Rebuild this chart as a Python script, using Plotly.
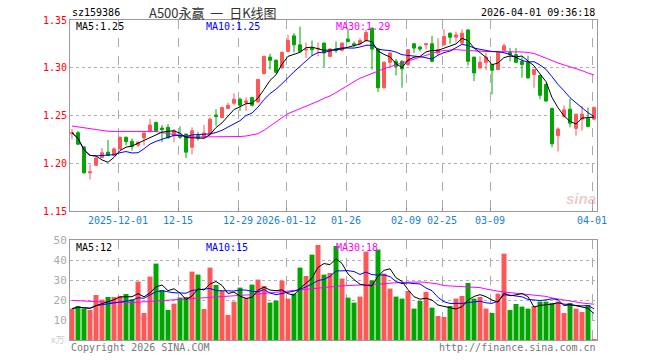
import pandas as pd
import plotly.graph_objects as go

# ---------------- data ----------------
holidays = ["2026-01-01", "2026-01-02", "2026-02-16", "2026-02-17", "2026-02-18",
            "2026-02-19", "2026-02-20", "2026-02-23"]
dates = [d.strftime("%Y-%m-%d") for d in pd.bdate_range("2025-11-19", "2026-04-01")
         if d.strftime("%Y-%m-%d") not in holidays]

open_ = [1.231, 1.232, 1.217, 1.190, 1.198, 1.206, 1.2116, 1.208, 1.215, 1.2272,
         1.223, 1.219, 1.2265, 1.2337, 1.2427, 1.2369, 1.2376, 1.2289, 1.2289, 1.2306,
         1.2168, 1.2289, 1.2272, 1.2306, 1.2504, 1.2479, 1.2573, 1.2628, 1.267, 1.2635,
         1.2687, 1.2642, 1.294, 1.3112, 1.3078, 1.2998, 1.3171, 1.3334, 1.324, 1.3185,
         1.3206, 1.3196, 1.3258, 1.3119, 1.3196, 1.3182, 1.3299, 1.3251, 1.3251, 1.3285,
         1.3413, 1.3196, 1.2791, 1.3057, 1.3067, 1.3067, 1.3033, 1.3251, 1.3216, 1.324,
         1.3251, 1.3154, 1.324, 1.3362, 1.332, 1.3258, 1.3396, 1.3112, 1.2998, 1.3057,
         1.3033, 1.2981, 1.3182, 1.3161, 1.3137, 1.3067, 1.3057, 1.2929, 1.2919, 1.2825,
         1.2573, 1.2289, 1.249, 1.2566, 1.2365, 1.2462, 1.2469, 1.2462]
high = [1.236, 1.234, 1.218, 1.1985, 1.2075, 1.216, 1.2244, 1.2168, 1.228, 1.228,
        1.226, 1.223, 1.2324, 1.2462, 1.2435, 1.240, 1.241, 1.2358, 1.2386, 1.2306,
        1.2376, 1.233, 1.240, 1.248, 1.2566, 1.2594, 1.2635, 1.2732, 1.2687, 1.2687,
        1.2697, 1.2884, 1.3126, 1.3147, 1.3092, 1.3171, 1.3344, 1.3362, 1.3431, 1.3265,
        1.3285, 1.3265, 1.3265, 1.3206, 1.3275, 1.3265, 1.3396, 1.3275, 1.331, 1.3396,
        1.3424, 1.3206, 1.3067, 1.3171, 1.3092, 1.3078, 1.3196, 1.3258, 1.323, 1.3251,
        1.3334, 1.331, 1.3403, 1.3369, 1.3379, 1.3403, 1.3403, 1.3112, 1.3119, 1.3161,
        1.3043, 1.3171, 1.3251, 1.3206, 1.3206, 1.3119, 1.3126, 1.2988, 1.2929, 1.2836,
        1.2583, 1.2376, 1.2607, 1.2677, 1.2514, 1.260, 1.2583, 1.2594]
low = [1.225, 1.219, 1.189, 1.183, 1.197, 1.2055, 1.2075, 1.2075, 1.2144, 1.2185,
       1.2133, 1.217, 1.2185, 1.2324, 1.2324, 1.222, 1.2262, 1.222, 1.2254, 1.2054,
       1.2092, 1.2237, 1.2262, 1.2289, 1.2393, 1.2479, 1.2566, 1.2607, 1.2549, 1.2549,
       1.2594, 1.2635, 1.2929, 1.2981, 1.294, 1.2991, 1.3161, 1.3161, 1.3161, 1.3102,
       1.3126, 1.3119, 1.3009, 1.3112, 1.3154, 1.3171, 1.3265, 1.3216, 1.324, 1.3275,
       1.2981, 1.2746, 1.278, 1.3016, 1.2919, 1.2791, 1.3016, 1.3154, 1.3171, 1.3189,
       1.3057, 1.3137, 1.323, 1.3251, 1.3265, 1.3251, 1.3023, 1.286, 1.2988, 1.2974,
       1.2722, 1.2974, 1.3171, 1.3067, 1.305, 1.2895, 1.2884, 1.2791, 1.267, 1.2642,
       1.2168, 1.2123, 1.2479, 1.2376, 1.2289, 1.2341, 1.2376, 1.2455]
close = [1.232, 1.220, 1.190, 1.191, 1.2054, 1.211, 1.208, 1.215, 1.2272, 1.2227,
         1.2175, 1.222, 1.2317, 1.240, 1.2341, 1.2351, 1.2265, 1.2341, 1.2272, 1.2116,
         1.2341, 1.2262, 1.2317, 1.2462, 1.249, 1.2583, 1.2607, 1.267, 1.2607, 1.2652,
         1.2607, 1.2877, 1.3119, 1.3078, 1.2953, 1.3161, 1.3285, 1.324, 1.3171, 1.3192,
         1.3189, 1.3203, 1.3154, 1.3196, 1.3182, 1.3258, 1.3275, 1.324, 1.3285, 1.3369,
         1.3196, 1.2791, 1.3057, 1.3154, 1.3016, 1.2988, 1.3189, 1.3206, 1.3196, 1.3251,
         1.3067, 1.3189, 1.3327, 1.332, 1.3344, 1.3362, 1.3067, 1.2946, 1.3057, 1.3112,
         1.2974, 1.3161, 1.323, 1.3137, 1.3057, 1.3033, 1.2895, 1.2981, 1.2711, 1.2652,
         1.2203, 1.2358, 1.2559, 1.242, 1.2514, 1.2514, 1.2386, 1.2583]
volume = [15.7, 17.0, 15.7, 15.0, 22.5, 20.2, 21.5, 21.5, 22.0, 23.0,
          20.3, 29.2, 13.5, 31.7, 38.2, 25.0, 15.0, 18.2, 21.2, 21.5,
          34.2, 32.7, 15.5, 36.2, 27.5, 24.5, 12.5, 19.2, 26.2, 21.2,
          27.7, 30.2, 27.0, 18.7, 19.7, 29.7, 20.7, 23.2, 36.2, 32.0,
          42.7, 47.5, 32.7, 33.5, 47.0, 30.7, 21.2, 18.7, 21.7, 44.2,
          29.8, 45.2, 33.2, 25.7, 21.7, 20.7, 24.5, 15.7, 19.5, 24.0,
          16.2, 12.0, 11.5, 17.0, 20.7, 22.0, 28.5, 20.7, 21.5, 15.7,
          13.5, 23.2, 43.2, 15.0, 18.0, 16.7, 15.7, 17.0, 19.2, 19.2,
          18.5, 19.2, 13.5, 18.5, 15.7, 14.0, 17.5, 0.5]
ma30_price = [1.239, 1.238, 1.237, 1.236, 1.235, 1.234, 1.2335,
              1.2333, 1.2333, 1.2333, 1.2333, 1.2333, 1.2333, 1.2333, 1.2333,
              1.232, 1.231, 1.230, 1.229, 1.2285,
              1.2275, 1.2275, 1.2275, 1.2275, 1.2275, 1.2275, 1.2275, 1.2275,
              1.228, 1.2285, 1.2295, 1.231,
              1.2345, 1.239, 1.243, 1.248, 1.252,
              1.2545, 1.257, 1.260, 1.2625, 1.265,
              1.268, 1.2705, 1.274, 1.278, 1.282,
              1.2855, 1.289, 1.2915, 1.294, 1.297,
              1.299, 1.301, 1.303, 1.305, 1.307,
              1.309, 1.311, 1.3135, 1.3155, 1.317,
              1.318, 1.3185, 1.319, 1.3185, 1.318,
              1.3175, 1.3175, 1.317, 1.317, 1.317,
              1.317, 1.317, 1.317, 1.3165, 1.316,
              1.315, 1.3125, 1.310, 1.307, 1.305,
              1.303, 1.301, 1.2995, 1.297, 1.2945,
              1.2925]
ma30_vol = [19.8, 19.6, 19.4, 19.2,
            19.0, 19.0, 18.9, 18.8, 18.7, 18.7, 18.7,
            18.9, 19.1, 19.2, 19.3, 19.4,
            19.6, 19.8, 20.0, 20.3,
            20.5, 20.7, 20.9, 21.1, 21.3,
            21.5, 21.7, 21.9, 22.2, 22.4,
            22.7, 23.0, 23.3, 23.6, 23.9,
            24.3, 24.7, 25.0, 25.3, 25.6,
            25.9, 26.2, 26.5, 26.7, 27.0,
            27.1, 27.2, 27.3, 27.4, 27.6,
            27.7, 27.8, 28.1, 28.4, 28.7,
            28.8, 28.9, 29.0, 29.0, 28.8,
            28.4, 28.0, 27.2, 27.0, 26.9,
            26.7, 26.5, 26.3, 26.2, 25.5,
            24.8, 24.4, 24.0, 23.7, 23.4,
            23.0, 22.8, 22.5, 22.3, 21.8,
            21.0, 20.5, 20.0, 19.5, 18.8,
            18.5, 18.2, 17.9]

tick_dates = ["2025-12-01", "2025-12-15", "2025-12-29", "2026-01-12", "2026-01-26",
              "2026-02-09", "2026-02-25", "2026-03-09", "2026-04-01"]
tick_text = ["2025-12-01", "12-15", "12-29", "2026-01-12", "01-26",
             "02-09", "02-25", "03-09", "04-01"]
price_ticks = [1.15, 1.20, 1.25, 1.30, 1.35]
vol_ticks = [10, 20, 30, 40, 50]

code = "sz159386"
title = "A500永赢\u00a0\u00a0一\u00a0\u00a0日K线图"
timestamp = "2026-04-01 09:36:18"
price_labels = ["MA5:1.25", "MA10:1.25", "MA30:1.29"]
vol_labels = ["MA5:12", "MA10:15", "MA30:18"]

# ---------------- derived ----------------
x = list(range(len(dates)))
cs = pd.Series(close)
vs = pd.Series(volume)
ma5 = cs.rolling(5, min_periods=1).mean()
ma10 = cs.rolling(10, min_periods=1).mean()
vma5 = vs.rolling(5, min_periods=1).mean()
vma10 = vs.rolling(10, min_periods=1).mean()

RED = "#ff5757"
GREEN = "#00a600"
vcolors = [RED if c >= o else GREEN for o, c in zip(open_, close)]
tickvals = [dates.index(d) - 1 / 3 for d in tick_dates]

MONO = "DejaVu Sans Mono"

fig = go.Figure()
fig.add_trace(go.Candlestick(
    x=x, open=open_, high=high, low=low, close=close,
    increasing=dict(line=dict(color=RED, width=1), fillcolor=RED),
    decreasing=dict(line=dict(color=GREEN, width=1), fillcolor=GREEN),
    whiskerwidth=0, xaxis="x", yaxis="y", hoverinfo="skip", showlegend=False))
for ser, col in [(ma30_price, "#ff00ff"), (ma10, "#0000ff"), (ma5, "#000000")]:
    fig.add_trace(go.Scatter(x=x, y=list(ser), mode="lines",
                             line=dict(color=col, width=1),
                             xaxis="x", yaxis="y", hoverinfo="skip", showlegend=False))

fig.add_trace(go.Bar(x=x, y=volume, marker=dict(color=vcolors, line=dict(width=0)),
                     xaxis="x2", yaxis="y2", hoverinfo="skip", showlegend=False))
for ser, col in [(ma30_vol, "#ff00ff"), (vma10, "#0000ff"), (vma5, "#000000")]:
    fig.add_trace(go.Scatter(x=x, y=list(ser), mode="lines",
                             line=dict(color=col, width=1),
                             xaxis="x2", yaxis="y2", hoverinfo="skip", showlegend=False))

W, H = 660, 360
L, R, T, B = 70, 63, 20, 20
PW, PH = W - L - R, H - T - B


def px(v):
    return (v - L) / PW


def py(v):
    return (H - B - v) / PH


xr = [-1 / 3, len(dates) - 0.5]
common_x = dict(range=xr, tickvals=tickvals, showgrid=True, gridcolor="#aaaaaa",
                griddash="dash", gridwidth=1, showline=True, mirror=True,
                linecolor="#999999", linewidth=1, zeroline=False, fixedrange=True)

fig.update_layout(
    width=W, height=H, margin=dict(l=L, r=R, t=T, b=B),
    paper_bgcolor="white", plot_bgcolor="white", bargap=0.17,
    font=dict(family=MONO, size=10, color="#000"),
    xaxis=dict(common_x, domain=[0, 1], anchor="y", ticktext=tick_text,
               ticks="inside", ticklen=3, tickcolor="#999999",
               tickfont=dict(family=MONO, size=10, color="#1a80d0"),
               rangeslider=dict(visible=False)),
    yaxis=dict(domain=[py(211), 1], range=[1.15, 1.35], tickvals=price_ticks,
               ticktext=[f"{v:.2f}" for v in price_ticks],
               tickfont=dict(family=MONO, size=10, color="#ff0000"),
               showgrid=True, gridcolor="#b0b0b0", griddash="dot", zeroline=False,
               showline=True, mirror=True, linecolor="#999999", anchor="x",
               fixedrange=True),
    xaxis2=dict(common_x, domain=[0, 1], anchor="y2", showticklabels=False, ticks=""),
    yaxis2=dict(domain=[0, py(240)], range=[0, 50], tickvals=vol_ticks,
                tickfont=dict(family=MONO, size=11, color="#aaaaaa"),
                showgrid=True, gridcolor="#b0b0b0", griddash="dot", zeroline=False,
                showline=True, mirror=True, linecolor="#999999", anchor="x2",
                fixedrange=True),
)


def ann(text, x0, y0, color="#000", size=10, xanchor="left", family=MONO, **kw):
    fig.add_annotation(text=text, x=px(x0), y=py(y0), xref="paper", yref="paper",
                       xanchor=xanchor, yanchor="middle", showarrow=False,
                       font=dict(family=family, size=size, color=color), **kw)


ann(code, 70, 13)
ann(title, 213, 12, color="#333", size=13, xanchor="center", family="Noto Sans CJK SC")
ann(timestamp, 597, 13, xanchor="right")
ann(price_labels[0], 74, 27, color="#000")
ann(price_labels[1], 204, 27, color="#0000ff")
ann(price_labels[2], 334, 27, color="#ff00ff")
ann(vol_labels[0], 74, 247, color="#000")
ann(vol_labels[1], 204, 247, color="#0000ff")
ann(vol_labels[2], 334, 247, color="#ff00ff")
ann("x万", 57, 339, color="#cccccc", size=9, xanchor="center", family="Noto Sans CJK SC")
ann("Copyright 2026 SINA.COM", 69, 347, color="#777777", size=10)
ann("http://finance.sina.com.cn", 598, 347, color="#777777", size=10, xanchor="right")
ann("<b><i>sina</i></b>", 581, 198, color="rgba(190,110,110,0.35)", size=15,
    xanchor="center", family="Liberation Sans")

fig.write_html("out.html", include_plotlyjs=True, config={"displayModeBar": False})
